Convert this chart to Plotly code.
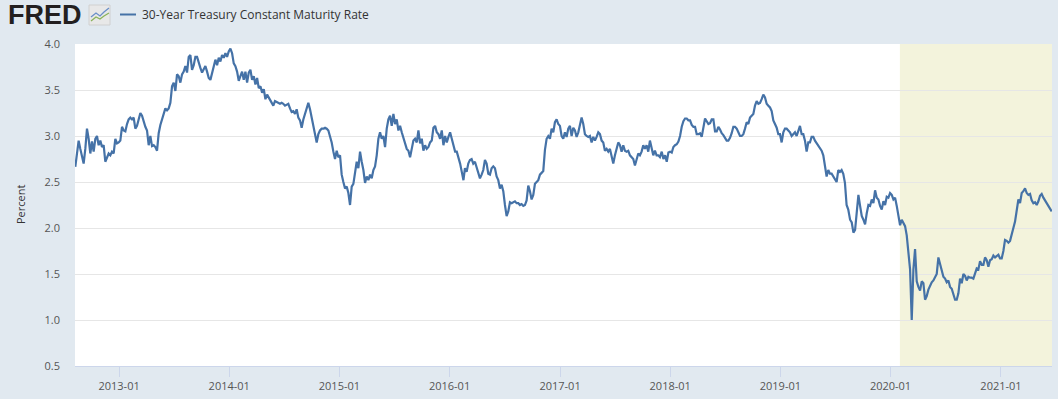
import pandas as pd
import plotly.graph_objects as go

# ---- data: 30-Year Treasury Constant Maturity Rate (percent) ----
seg_a_start, seg_a_end = "2012-08-09", "2014-05-12"
seg_a_vals = [2.665, 2.79, 2.95, 2.86, 2.78, 2.70, 2.86, 3.08, 2.97, 2.81, 2.94, 2.83, 2.97, 3.00,
              2.90, 2.95, 2.88, 2.90, 2.72, 2.77, 2.81, 2.79, 2.83, 2.81, 2.97, 2.92, 2.93, 2.95,
              3.10, 3.06, 3.05, 3.13, 3.18, 3.20, 3.18, 3.20, 3.08, 3.11, 3.18, 3.25, 3.22, 3.15,
              3.10, 3.06, 2.90, 3.00, 2.89, 2.90, 2.88, 2.84, 3.03, 3.12, 3.18, 3.24, 3.30, 3.28,
              3.30, 3.36, 3.54, 3.58, 3.49, 3.67, 3.65, 3.58, 3.67, 3.70, 3.76, 3.69, 3.86, 3.88,
              3.72, 3.77, 3.86, 3.86, 3.79, 3.74, 3.69, 3.72, 3.76, 3.70, 3.63, 3.61, 3.69, 3.76,
              3.83, 3.77, 3.85, 3.81, 3.88, 3.85, 3.90, 3.86, 3.92, 3.95, 3.90, 3.79, 3.76, 3.70,
              3.60, 3.65, 3.70, 3.61, 3.70, 3.58, 3.69, 3.72, 3.61, 3.65, 3.56, 3.63, 3.52, 3.54,
              3.47, 3.51, 3.40, 3.45, 3.42]

seg_b_start, seg_b_end = "2014-05-16", "2016-02-16"
seg_b_vals = [3.40, 3.36, 3.33, 3.38, 3.37, 3.36, 3.35, 3.36, 3.35, 3.33, 3.34, 3.35, 3.30, 3.26,
              3.27, 3.24, 3.29, 3.20, 3.17, 3.09, 3.18, 3.24, 3.31, 3.36, 3.29, 3.20, 3.11, 3.04,
              2.93, 3.02, 3.06, 3.08, 3.08, 3.09, 3.08, 3.06, 3.00, 2.93, 2.83, 2.75, 2.84, 2.77,
              2.79, 2.58, 2.50, 2.43, 2.45, 2.38, 2.25, 2.45, 2.48, 2.59, 2.72, 2.65, 2.83, 2.72,
              2.63, 2.49, 2.56, 2.52, 2.58, 2.54, 2.63, 2.67, 2.79, 2.97, 3.04, 2.97, 3.00, 2.88,
              3.08, 3.18, 3.22, 3.11, 3.24, 3.13, 3.18, 3.06, 3.11, 3.04, 2.97, 2.93, 2.86, 2.84,
              2.77, 2.86, 2.95, 2.97, 2.93, 3.06, 2.92, 2.97, 2.84, 2.90, 2.86, 2.88, 2.93, 2.95,
              3.09, 3.11, 3.04, 3.02, 2.97, 3.06, 2.90, 3.00, 2.93, 2.99, 3.04, 2.97, 2.90, 2.83,
              2.83, 2.77, 2.70, 2.61, 2.52]

seg_c_start, seg_c_end = "2016-02-21", "2017-11-28"
seg_c_vals = [2.65, 2.61, 2.70, 2.74, 2.75, 2.70, 2.72, 2.65, 2.61, 2.54, 2.58, 2.63, 2.74, 2.70,
              2.59, 2.58, 2.65, 2.67, 2.65, 2.56, 2.52, 2.43, 2.47, 2.40, 2.25, 2.13, 2.18, 2.28,
              2.27, 2.28, 2.29, 2.27, 2.27, 2.25, 2.26, 2.24, 2.25, 2.30, 2.46, 2.40, 2.31, 2.36,
              2.48, 2.50, 2.52, 2.58, 2.60, 2.62, 2.85, 2.97, 3.00, 2.97, 3.08, 3.04, 3.15, 3.18,
              3.13, 3.11, 3.00, 2.97, 3.04, 2.99, 3.08, 3.11, 3.00, 3.09, 3.06, 2.99, 3.04, 3.13,
              3.20, 3.13, 3.02, 3.00, 2.99, 3.00, 2.93, 2.99, 2.95, 2.99, 3.04, 3.02, 2.95, 2.93,
              2.84, 2.86, 2.83, 2.86, 2.77, 2.70, 2.79, 2.86, 2.93, 2.90, 2.83, 2.90, 2.84, 2.83,
              2.84, 2.79, 2.77, 2.75, 2.68, 2.75, 2.81, 2.79, 2.83, 2.90, 2.86, 2.90, 2.83, 2.95,
              2.88, 2.79, 2.84, 2.79, 2.79, 2.77]

seg_d_start, seg_d_end = "2017-12-04", "2019-08-14"
seg_d_vals = [2.83, 2.75, 2.79, 2.72, 2.82, 2.83, 2.82, 2.88, 2.90, 2.91, 2.94, 3.00, 3.10, 3.16,
              3.19, 3.19, 3.17, 3.17, 3.12, 3.10, 3.10, 3.02, 3.02, 3.03, 2.99, 3.08, 3.19, 3.16,
              3.13, 3.14, 3.18, 3.18, 3.05, 3.05, 3.10, 3.07, 3.03, 3.01, 2.98, 2.95, 2.95, 2.98,
              3.03, 3.10, 3.10, 3.08, 3.04, 3.00, 3.00, 3.02, 3.08, 3.15, 3.13, 3.20, 3.22, 3.24,
              3.33, 3.38, 3.35, 3.36, 3.40, 3.45, 3.42, 3.35, 3.33, 3.31, 3.27, 3.17, 3.13, 3.09,
              3.02, 3.02, 2.93, 3.04, 3.08, 3.08, 3.06, 3.04, 3.00, 3.02, 3.04, 3.00, 3.06, 3.11,
              3.02, 3.02, 2.95, 2.83, 2.93, 2.93, 2.99, 2.99, 2.95, 2.92, 2.90, 2.86, 2.84, 2.79,
              2.68, 2.56, 2.63, 2.59, 2.59, 2.56, 2.54, 2.50, 2.63, 2.61, 2.63, 2.59, 2.49, 2.25,
              2.20]

seg_e_start, seg_e_end = "2019-08-20", "2021-06-18"
seg_e_vals = [2.09, 2.06, 1.95, 1.98, 2.16, 2.36, 2.24, 2.13, 2.09, 2.04, 2.16, 2.25, 2.24, 2.31,
              2.27, 2.41, 2.33, 2.31, 2.24, 2.20, 2.29, 2.25, 2.34, 2.33, 2.38, 2.36, 2.31, 2.33,
              2.24, 2.13, 2.03, 2.09, 2.06, 2.02, 1.92, 1.72, 1.55, 1.00, 1.55, 1.77, 1.42, 1.36,
              1.32, 1.42, 1.40, 1.22, 1.26, 1.33, 1.38, 1.41, 1.43, 1.46, 1.50, 1.68, 1.61, 1.52,
              1.47, 1.45, 1.41, 1.43, 1.36, 1.34, 1.27, 1.22, 1.22, 1.29, 1.45, 1.40, 1.50, 1.48,
              1.43, 1.47, 1.46, 1.46, 1.45, 1.50, 1.56, 1.55, 1.64, 1.60, 1.60, 1.68, 1.65, 1.58,
              1.65, 1.66, 1.70, 1.68, 1.70, 1.71, 1.67, 1.67, 1.75, 1.87, 1.86, 1.84, 1.86, 1.95,
              2.00, 2.07, 2.20, 2.31, 2.27, 2.38, 2.40, 2.43, 2.38, 2.36, 2.37, 2.30, 2.27, 2.28,
              2.25, 2.29, 2.35, 2.37, 2.33, 2.30, 2.28, 2.24, 2.22, 2.18]

x_tick_labels = ["2013-01", "2014-01", "2015-01", "2016-01", "2017-01",
                 "2018-01", "2019-01", "2020-01", "2021-01"]
y_tick_values = [0.5, 1.0, 1.5, 2.0, 2.5, 3.0, 3.5, 4.0]
recession_start = "2020-02-01"
x_range = ["2012-08-08", "2021-06-19"]
series_name = "30-Year Treasury Constant Maturity Rate"

segments = [(seg_a_start, seg_a_end, seg_a_vals), (seg_b_start, seg_b_end, seg_b_vals),
            (seg_c_start, seg_c_end, seg_c_vals), (seg_d_start, seg_d_end, seg_d_vals),
            (seg_e_start, seg_e_end, seg_e_vals)]
dates, values = [], []
for s, e, v in segments:
    dates.extend(pd.date_range(s, e, periods=len(v)))
    values.extend(v)

LINE = "#4572a7"
BG = "#e1e9f0"
FONT = "Open Sans"

fig = go.Figure()
fig.add_trace(go.Scatter(x=dates, y=values, mode="lines", name=series_name,
                         line=dict(color=LINE, width=2.2), showlegend=False))

# recession shading
fig.add_shape(type="rect", xref="x", yref="paper", x0=recession_start, x1=x_range[1],
              y0=0, y1=1, fillcolor="#f3f3dc", line=dict(width=0), layer="below")

fig.update_layout(
    width=1058, height=399,
    margin=dict(l=75, r=6, t=44, b=29),
    paper_bgcolor=BG, plot_bgcolor="white",
    font=dict(family=FONT, size=11, color="#555555"),
    xaxis=dict(range=x_range, tickvals=[l + "-01" for l in x_tick_labels], ticktext=x_tick_labels,
               showgrid=False, showline=True, linecolor="#ccd6eb", linewidth=1,
               ticks="outside", ticklen=10, tickcolor="#ccd6eb", tickwidth=1,
               tickfont=dict(size=11, color="#555555"), zeroline=False, ticklabelstandoff=0),
    yaxis=dict(range=[0.5, 4.0], tickvals=y_tick_values, tickformat=".1f",
               showgrid=True, gridcolor="#e6e6e6", gridwidth=1, zeroline=False,
               showline=False, ticks="", tickfont=dict(size=11, color="#555555"),
               ticklabelstandoff=14),
)

# y-axis title
fig.add_annotation(text="Percent", xref="paper", yref="paper", x=0, y=0.5, xshift=-55,
                   xanchor="center", yanchor="middle",
                   textangle=-90, showarrow=False, font=dict(family=FONT, size=11, color="#333333"))

# FRED logo and legend header
fig.add_annotation(text="<b>FRED</b>", xref="paper", yref="paper", xanchor="left", yanchor="middle",
                   x=0, y=1, xshift=-69, yshift=29, showarrow=False,
                   font=dict(family="Liberation Sans", size=27, color="#231f20"))
fig.add_shape(type="rect", xref="paper", yref="paper", xsizemode="pixel", ysizemode="pixel",
              xanchor=0, yanchor=1, x0=14, x1=35, y0=19, y1=39,
              fillcolor="#e8e8e8", line=dict(color="#d0d0d0", width=1))
fig.add_shape(type="path", xref="paper", yref="paper", xsizemode="pixel", ysizemode="pixel",
              xanchor=0, yanchor=1, path="M 16 27 L 21 31 L 25 28 L 29 32 L 34 36",
              line=dict(color="#6a8fc8", width=1.3))
fig.add_shape(type="path", xref="paper", yref="paper", xsizemode="pixel", ysizemode="pixel",
              xanchor=0, yanchor=1, path="M 16 23 L 21 27 L 25 25 L 29 28 L 34 31",
              line=dict(color="#8bb35a", width=1.3))
fig.add_shape(type="line", xref="paper", yref="paper", xsizemode="pixel", ysizemode="pixel",
              xanchor=0, yanchor=1, x0=45, x1=61, y0=29.5, y1=29.5,
              line=dict(color=LINE, width=2))
fig.add_annotation(text=series_name, xref="paper", yref="paper", xanchor="left", yanchor="middle",
                   x=0, y=1, xshift=65, yshift=29.5, showarrow=False,
                   font=dict(family=FONT, size=12, color="#333333"))

fig.write_html("out.html", config={"displayModeBar": False},
               post_script="document.body.style.margin='0';document.body.style.padding='0';"
                           "document.body.style.overflow='hidden';")
